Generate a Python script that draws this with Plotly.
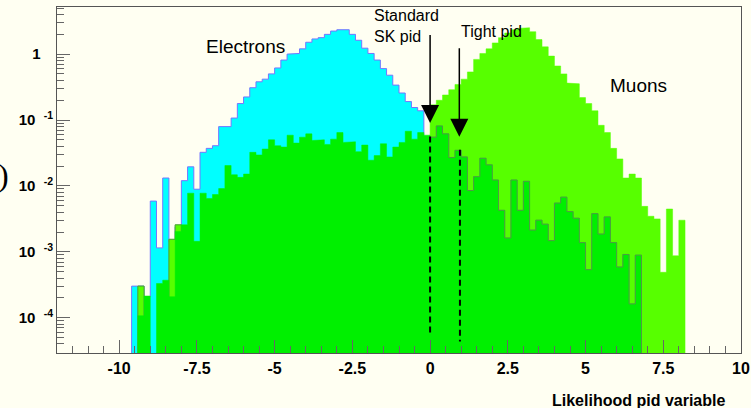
import numpy as np
import plotly.graph_objects as go

# ---------------- data (log10 of bin contents) -------------
bin_width = 0.2
bin_low_edges = np.round(-9.6 + bin_width * np.arange(89), 1)   # -9.6 ... 8.0

electrons_log10 = [
    -3.52, -3.52, -3.68, -2.23, -2.94, -1.88, -2.85, -2.62, -1.92, -1.71,
    -2.05, -1.49, -1.43, -1.39, -1.10, -1.10, -0.97, -0.75, -0.65, -0.51,
    -0.42, -0.38, -0.30, -0.21, -0.09, 0.00, 0.01, 0.08, 0.18, 0.23,
    0.25, 0.30, 0.35, 0.37, 0.37, 0.30, 0.21, 0.09, 0.01, -0.09,
    -0.22, -0.32, -0.47, -0.59, -0.72, -0.81, -0.86, -1.30,
] + [None] * 41

muons_log10 = [None, -3.52, None, None, None, None, -2.81, -2.59] + [None] * 40 + [
    -0.77, -0.70, -0.62, -0.54, -0.46, -0.38, -0.27, -0.08, 0.01, 0.08,
    0.17, 0.25, 0.32, 0.37, 0.39, 0.40, 0.34, 0.22, 0.11, -0.03,
    -0.18, -0.30, -0.44, -0.45, -0.66, -0.75, -0.86, -1.08, -1.19, -1.43,
    -1.59, -1.88, -1.82, -1.88, -2.31, -2.46, -2.50, -3.31, -2.35, -3.06,
    -2.52,
]

green_log10 = [
    None, -3.97, -3.67, None, -3.48, -3.43, -3.68, -2.69, -2.59, -2.11,
    -2.84, -2.11, -2.19, -2.13, -2.04, -1.69, -1.83, -1.87, -1.82, -1.49,
    -1.53, -1.44, -1.30, -1.39, -1.41, -1.23, -1.35, -1.26, -1.21, -1.31,
    -1.30, -1.37, -1.29, -1.19, -1.34, -1.33, -1.48, -1.38, -1.61, -1.54,
    -1.36, -1.56, -1.41, -1.34, -1.17, -1.29, -1.19, -1.23,
    -1.26, -1.09, -1.21, -1.57, -1.46, -1.56, -2.07, -1.86, -1.58, -1.68,
    -1.91, -2.37, -2.79, -1.91, -2.37, -1.93, -2.67, -2.52, -2.58, -2.83,
    -2.26, -2.17, -2.39, -2.49, -2.86, -3.27, -2.42, -2.73, -2.47, -2.86,
    -3.23, -3.04, -3.79, -3.05,
] + [None] * 7

x_tick_vals = [-10, -7.5, -5, -2.5, 0, 2.5, 5, 7.5, 10]
x_tick_text = ["-10", "-7.5", "-5", "-2.5", "0", "2.5", "5", "7.5", "10"]
y_tick_vals = [1e-4, 1e-3, 1e-2, 1e-1, 1]
y_tick_text = ["10&nbsp;&nbsp;<sup>-4</sup>", "10&nbsp;&nbsp;<sup>-3</sup>",
               "10&nbsp;&nbsp;<sup>-2</sup>", "10&nbsp;&nbsp;<sup>-1</sup>",
               "1&nbsp;&nbsp;&nbsp;"]

standard_cut = 0.0
tight_cut = 0.96

# ---------------- helpers ----------------
FLOOR = 1e-7
N = len(bin_low_edges)
i_zero = int(np.argmin(np.abs(bin_low_edges - 0.0)))   # first bin with x >= 0


def bin_val(v):
    return FLOOR if v is None else 10 ** v


def step_fill(logs):
    xs, ys = [bin_low_edges[0]], [FLOOR]
    for e, v in zip(bin_low_edges, logs):
        xs += [e, e + bin_width]
        ys += [bin_val(v), bin_val(v)]
    xs += [bin_low_edges[-1] + bin_width, bin_low_edges[0]]
    ys += [FLOOR, FLOOR]
    return xs, ys


def step_line(logs, i0, i1, start_at_floor=True):
    xs, ys = ([bin_low_edges[i0]], [FLOOR]) if start_at_floor else ([], [])
    for e, v in zip(bin_low_edges[i0:i1], logs[i0:i1]):
        xs += [e, e + bin_width]
        ys += [bin_val(v), bin_val(v)]
    xs.append(bin_low_edges[i1 - 1] + bin_width)
    ys.append(FLOOR)
    return xs, ys


BG = "#fffff2"
CYAN, LGREEN, GREEN = "#00ffff", "#57ff00", "#00f000"
DARK_OUTLINE = "#4f9a45"

fig = go.Figure()

# electrons (cyan, blue outline)
xs, ys = step_fill(electrons_log10)
fig.add_trace(go.Scatter(x=xs, y=ys, mode="lines", fill="toself", fillcolor=CYAN,
                         line=dict(color="#7575ff", width=1), name="Electrons",
                         showlegend=False, hoverinfo="skip"))
# muons (light green)
xs, ys = step_fill(muons_log10)
fig.add_trace(go.Scatter(x=xs, y=ys, mode="lines", fill="toself", fillcolor=LGREEN,
                         line=dict(color=LGREEN, width=0.5), name="Muons",
                         showlegend=False, hoverinfo="skip"))
xs, ys = step_line(muons_log10, 0, i_zero)
fig.add_trace(go.Scatter(x=xs, y=ys, mode="lines",
                         line=dict(color=DARK_OUTLINE, width=1),
                         showlegend=False, hoverinfo="skip"))
# third sample (green)
xs, ys = step_fill(green_log10)
fig.add_trace(go.Scatter(x=xs, y=ys, mode="lines", fill="toself", fillcolor=GREEN,
                         line=dict(color=GREEN, width=0.5), name="Other",
                         showlegend=False, hoverinfo="skip"))
last_green = max(i for i, v in enumerate(green_log10) if v is not None) + 1
xs, ys = step_line(green_log10, i_zero, last_green, start_at_floor=False)
fig.add_trace(go.Scatter(x=xs, y=ys, mode="lines",
                         line=dict(color=DARK_OUTLINE, width=1),
                         showlegend=False, hoverinfo="skip"))

# dashed cut lines
fig.add_shape(type="line", xref="x", yref="y", x0=standard_cut, x1=standard_cut,
              y0=10 ** -1.25, y1=10 ** -4.23,
              line=dict(color="black", width=2, dash="6px,4px"))
fig.add_shape(type="line", xref="x", yref="y", x0=tight_cut, x1=tight_cut,
              y0=10 ** -1.45, y1=10 ** -4.36,
              line=dict(color="black", width=2, dash="6px,4px"))

annotations = []
# arrows
for xc, tip, tail in [(standard_cut, -1.045, 0.314), (tight_cut - 0.02, -1.253, 0.11)]:
    annotations.append(dict(x=xc, y=tip, ax=xc, ay=tail, xref="x", yref="y",
                            axref="x", ayref="y", text="", showarrow=True,
                            arrowhead=2, arrowsize=2.4, arrowwidth=1.5,
                            arrowcolor="black"))

txtfont = dict(family="Liberation Sans, Arial, sans-serif", size=19, color="black")
annotations += [
    dict(x=-5.93, y=0.11, xref="x", yref="y", text="Electrons", showarrow=False,
         font=txtfont, xanchor="center", yanchor="middle"),
    dict(x=6.70, y=-0.47, xref="x", yref="y", text="Muons", showarrow=False,
         font=txtfont, xanchor="center", yanchor="middle"),
    dict(x=(372 - 57) / 684, y=(353 - 26) / 346, xref="paper", yref="paper",
         text="Standard<br>SK pid", showarrow=False, align="left",
         font=dict(family="Liberation Sans, Arial, sans-serif", size=16, color="black"),
         xanchor="left", yanchor="middle"),
    dict(x=(459 - 57) / 684, y=(353 - 32) / 346, xref="paper", yref="paper",
         text="Tight pid", showarrow=False,
         font=dict(family="Liberation Sans, Arial, sans-serif", size=16, color="black"),
         xanchor="left", yanchor="middle"),
    dict(x=(727 - 57) / 684, y=(353 - 400) / 346, xref="paper", yref="paper",
         text="Likelihood pid variable", showarrow=False,
         font=dict(family="Liberation Sans, Arial, sans-serif", size=16,
                   color="black", weight="bold"),
         xanchor="right", yanchor="middle"),
    dict(x=(3 - 57) / 684, y=(353 - 175) / 346, xref="paper", yref="paper",
         text=")", showarrow=False,
         font=dict(family="Liberation Serif, serif", size=32, color="black"),
         xanchor="center", yanchor="middle"),
]

axis_line = "#555555"
tick_col = "#666666"

y_minor = [m * 10.0 ** e for e in range(-5, 1) for m in range(2, 10)]
x_minor = list(np.round(np.arange(-12, 10.01, 0.5), 2))

fig.update_layout(
    width=751, height=408,
    margin=dict(l=57, r=10, t=7, b=55),
    paper_bgcolor=BG, plot_bgcolor=BG,
    showlegend=False,
    annotations=annotations,
    xaxis=dict(range=[-12, 10], showgrid=False, zeroline=False, automargin=False,
               showline=True, mirror=True, linecolor=axis_line, linewidth=1,
               tickmode="array", tickvals=x_tick_vals, ticktext=x_tick_text,
               ticks="inside", ticklen=13, tickwidth=1, tickcolor=tick_col,
               minor=dict(tickmode="array", tickvals=x_minor, ticks="inside",
                          ticklen=7, tickwidth=1, tickcolor=tick_col),
               tickfont=dict(family="Liberation Sans, Arial, sans-serif", size=16,
                             color="black", weight="bold"),
               ticklabelstandoff=1),
    yaxis=dict(type="log", range=[-4.535, 0.715], showgrid=False, zeroline=False,
               automargin=False,
               showline=True, mirror=True, linecolor=axis_line, linewidth=1,
               tickmode="array", tickvals=y_tick_vals, ticktext=y_tick_text,
               ticks="inside", ticklen=13, tickwidth=1, tickcolor=tick_col,
               minor=dict(tickmode="array", tickvals=y_minor, ticks="inside",
                          ticklen=7, tickwidth=1, tickcolor=tick_col),
               tickfont=dict(family="Liberation Sans, Arial, sans-serif", size=15,
                             color="black", weight="bold"),
               ticklabelstandoff=0),
)

fig.write_html(
    "out.html",
    config={"displayModeBar": False},
    post_script="document.body.style.margin='0';document.body.style.overflow='hidden';"
                "document.body.style.background='" + BG + "';",
)
